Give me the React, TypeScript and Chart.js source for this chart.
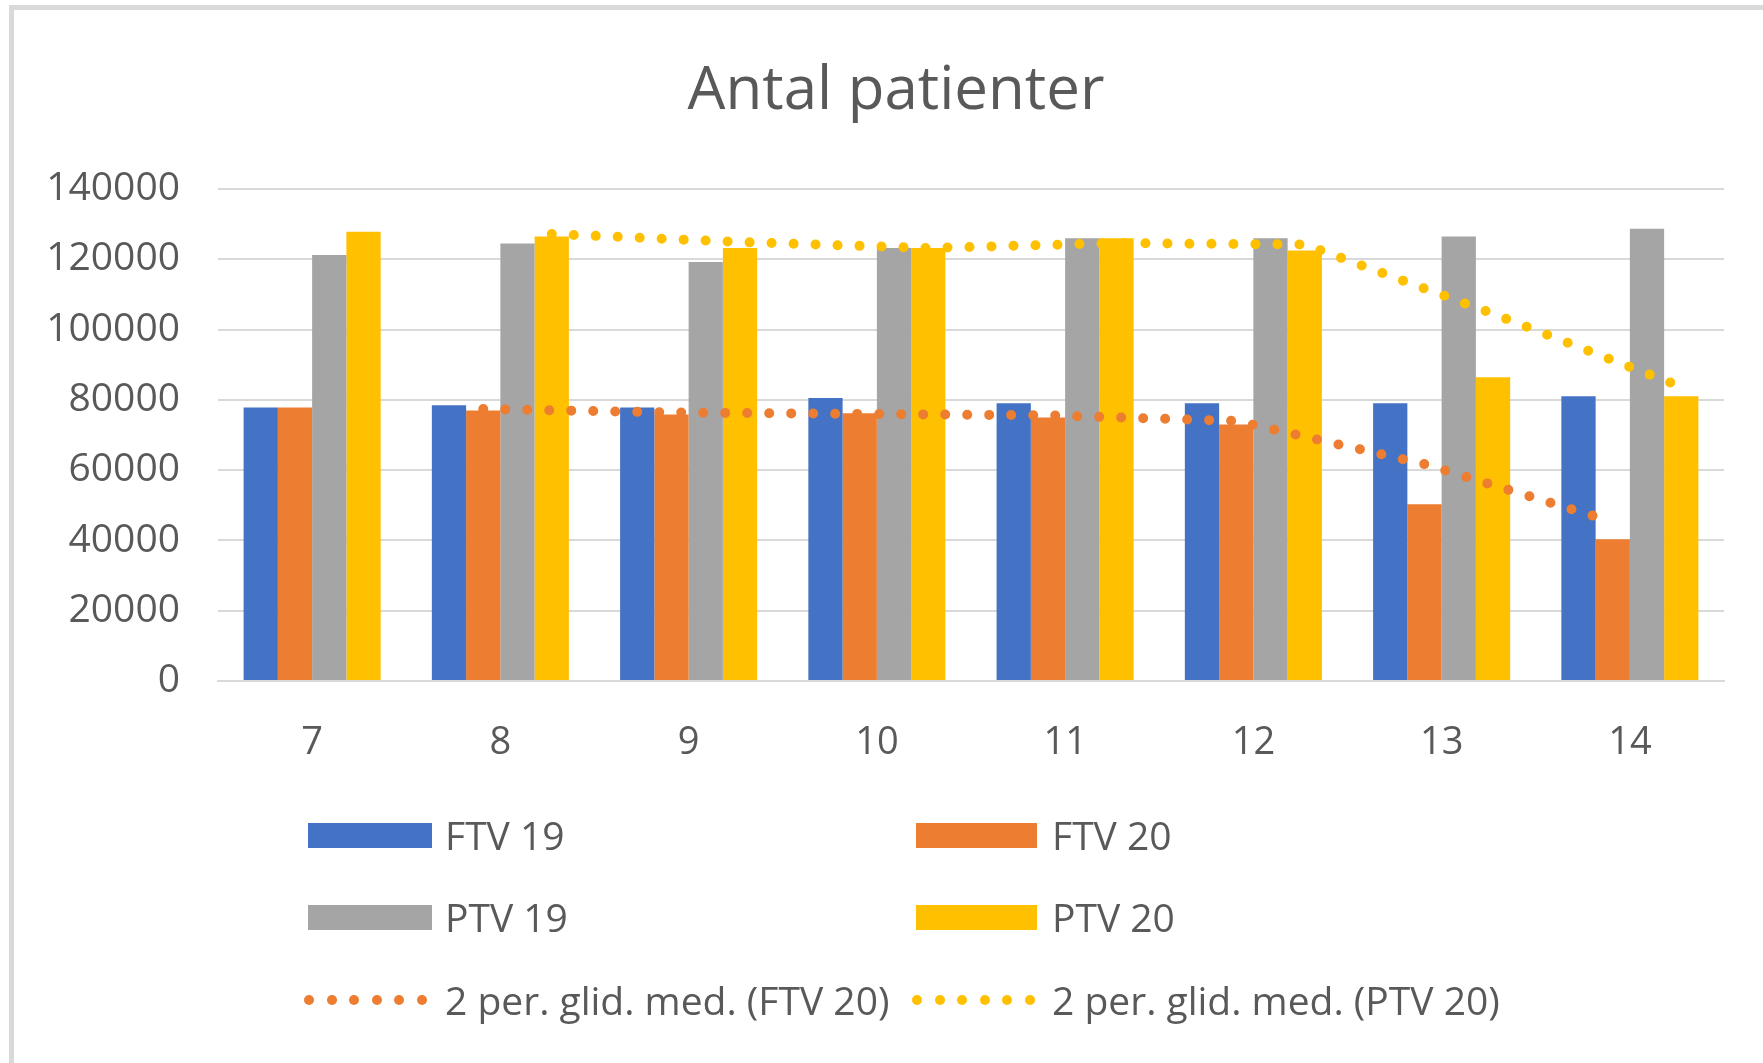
import React, { useEffect, useRef } from "react";
import { Chart, registerables } from "chart.js";

Chart.register(...registerables);

const CATEGORIES = ["7", "8", "9", "10", "11", "12", "13", "14"];
const FTV19 = [77800, 78500, 77800, 80500, 79000, 79000, 79000, 81000];
const FTV20 = [77800, 77000, 75800, 76200, 75000, 73000, 50300, 40300];
const PTV19 = [121200, 124500, 119200, 123200, 126000, 126000, 126500, 128700];
const PTV20 = [127800, 126500, 123200, 123200, 126000, 122500, 86400, 81000];
const FTV20_MA: (number | null)[] = [null, 77400, 76400, 76000, 75600, 74000, 61700, 45300];
const PTV20_MA: (number | null)[] = [null, 127200, 124900, 123200, 124600, 124200, 104500, 83700];
const Y_TICK_STEP = 20000;
const Y_MAX = 140000;

const TITLE = "Antal patienter";
const COLORS = { blue: "#4472C4", orange: "#ED7D31", gray: "#A5A5A5", yellow: "#FFC000" };
const LEGEND = [
  { label: "FTV 19", color: COLORS.blue, kind: "box" },
  { label: "FTV 20", color: COLORS.orange, kind: "box" },
  { label: "PTV 19", color: COLORS.gray, kind: "box" },
  { label: "PTV 20", color: COLORS.yellow, kind: "box" },
  { label: "2 per. glid. med. (FTV 20)", color: COLORS.orange, kind: "dots" },
  { label: "2 per. glid. med. (PTV 20)", color: COLORS.yellow, kind: "dots" },
];

const W = 1763;
const H = 1063;
const FONT = "'Open Sans', 'Noto Sans', sans-serif";
const TEXT = "#595959";
const CAT_PCT = 0.728;
const N_BARS = 4;

function barOffset(j: number) {
  return (j - (N_BARS - 1) / 2) * (CAT_PCT / N_BARS);
}

function toPoints(vals: (number | null)[], off: number) {
  const out: { x: number; y: number }[] = [];
  vals.forEach((v, i) => {
    if (v !== null) out.push({ x: i + off, y: v });
  });
  return out;
}

export default function App() {
  const ref = useRef<HTMLCanvasElement | null>(null);

  useEffect(() => {
    document.body.style.margin = "0";
    const canvas = ref.current;
    if (!canvas) return;
    const dotLine = (color: string) => ({
      borderColor: color,
      backgroundColor: color,
      borderWidth: 10,
      borderDash: [0, 22],
      borderCapStyle: "round" as const,
      pointRadius: 0,
      tension: 0,
      fill: false,
    });
    const bar = (label: string, vals: number[], color: string) => ({
      type: "bar",
      label,
      data: toPoints(vals, 0),
      backgroundColor: color,
      order: 1,
    });
    const chart = new Chart(canvas, {
      type: "bar",
      data: {
        datasets: [
          bar("FTV 19", FTV19, COLORS.blue),
          bar("FTV 20", FTV20, COLORS.orange),
          bar("PTV 19", PTV19, COLORS.gray),
          bar("PTV 20", PTV20, COLORS.yellow),
          {
            type: "line",
            label: "2 per. glid. med. (FTV 20)",
            data: toPoints(FTV20_MA, barOffset(1)),
            order: 0,
            ...dotLine(COLORS.orange),
          },
          {
            type: "line",
            label: "2 per. glid. med. (PTV 20)",
            data: toPoints(PTV20_MA, barOffset(3)),
            order: 0,
            ...dotLine(COLORS.yellow),
          },
        ] as any,
      },
      options: {
        responsive: false,
        animation: false,
        maintainAspectRatio: false,
        datasets: { bar: { categoryPercentage: CAT_PCT, barPercentage: 1.0 } },
        layout: { padding: { top: 189, right: 39, left: 0, bottom: 0 } },
        plugins: { legend: { display: false }, tooltip: { enabled: false }, title: { display: false } },
        scales: {
          x: {
            type: "linear",
            offset: false,
            min: -0.5,
            max: CATEGORIES.length - 0.5,
            grid: { display: false, drawTicks: false, offset: false },
            border: { display: true, color: "#d9d9d9", width: 2 },
            afterBuildTicks: (s: any) => {
              s.ticks = CATEGORIES.map((_, i) => ({ value: i }));
            },
            ticks: {
              autoSkip: false,
              maxRotation: 0,
              color: TEXT,
              font: { family: FONT, size: 38 },
              padding: 39,
              callback: (v: any) => {
                const i = Math.round(Number(v));
                return CATEGORIES[i] !== undefined ? CATEGORIES[i] : "";
              },
            },
            afterFit: (s: any) => {
              s.height = H - 681;
            },
          },
          y: {
            type: "linear",
            min: 0,
            max: Y_MAX,
            grid: { color: "#d9d9d9", lineWidth: 2, drawTicks: false },
            border: { display: false },
            ticks: {
              stepSize: Y_TICK_STEP,
              color: TEXT,
              font: { family: FONT, size: 39 },
              padding: 38,
              callback: (v: any) => String(v),
            },
            afterFit: (s: any) => {
              s.width = 218;
            },
          },
        },
      } as any,
    });
    return () => chart.destroy();
  }, []);

  const col1 = { sw: 308, swW: 124, tx: 445 };
  const col2 = { sw: 916, swW: 121, tx: 1052 };
  const rows = [835, 917, 1000];

  return (
    <div style={{ position: "relative", width: W, height: H, overflow: "hidden", background: "#fff" }}>
      <div
        style={{
          position: "absolute",
          left: 9,
          top: 5,
          width: W + 40,
          height: H + 40,
          border: "5px solid #d9d9d9",
          boxSizing: "border-box",
        }}
      />
      <canvas ref={ref} width={W} height={H} style={{ position: "absolute", left: 0, top: 0, width: W, height: H }} />
      <div
        style={{
          position: "absolute",
          left: 896 - 450,
          width: 900,
          top: 56,
          textAlign: "center",
          fontFamily: FONT,
          fontSize: 60,
          lineHeight: "60px",
          color: TEXT,
          whiteSpace: "nowrap",
        }}
      >
        {TITLE}
      </div>
      {LEGEND.map((item, i) => {
        const col = i % 2 === 0 ? col1 : col2;
        const cy = rows[Math.floor(i / 2)];
        return (
          <div key={item.label}>
            {item.kind === "box" ? (
              <div
                style={{
                  position: "absolute",
                  left: col.sw,
                  top: cy - 12,
                  width: col.swW,
                  height: 25,
                  background: item.color,
                }}
              />
            ) : (
              Array.from({ length: 6 }).map((_, k) => (
                <div
                  key={k}
                  style={{
                    position: "absolute",
                    left: col.sw - 4 + k * 22.6,
                    top: cy - 5,
                    width: 10,
                    height: 10,
                    borderRadius: 5,
                    background: item.color,
                  }}
                />
              ))
            )}
            <div
              style={{
                position: "absolute",
                left: col.tx,
                top: cy - 20,
                fontFamily: FONT,
                fontSize: 39,
                lineHeight: "39px",
                color: TEXT,
                whiteSpace: "nowrap",
              }}
            >
              {item.label}
            </div>
          </div>
        );
      })}
    </div>
  );
}
